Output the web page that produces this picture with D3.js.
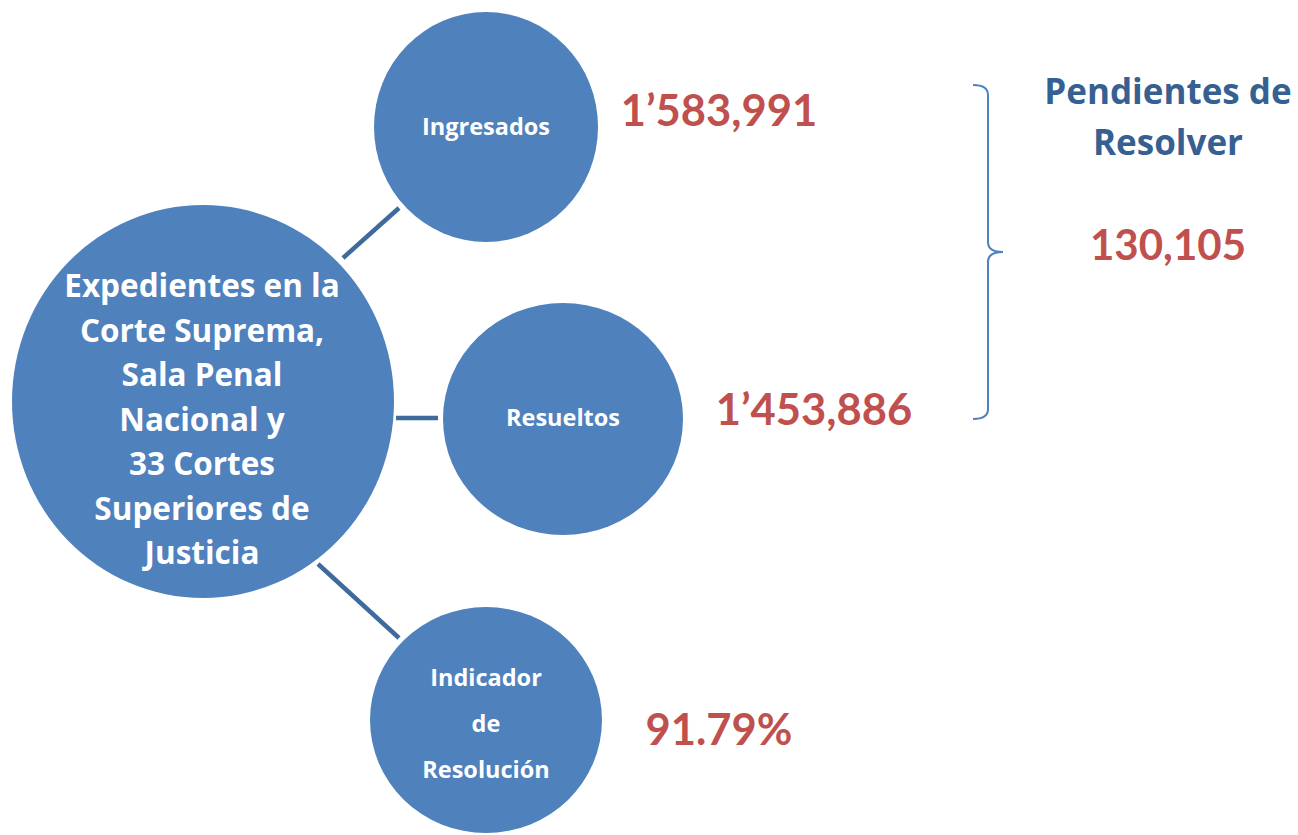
<!DOCTYPE html>
<html>
<head>
<meta charset="utf-8">
<script src="https://cdn.jsdelivr.net/npm/d3@7"></script>
<style>
html,body{margin:0;padding:0;background:#fff;}
svg{display:block;font-family:Lato,"Open Sans",sans-serif;font-weight:bold;}
.os{font-family:"Open Sans",Lato,sans-serif;}
</style>
</head>
<body>
<svg id="chart" width="1298" height="835"></svg>
<script>
// ---- data ----
const mainLabel = ["Expedientes en la", "Corte Suprema,", "Sala Penal", "Nacional y", "33 Cortes", "Superiores de", "Justicia"];
const nodeNames = ["Ingresados", "Resueltos", "Indicador de Resolución"];
const nodeLines = [["Ingresados"], ["Resueltos"], ["Indicador", "de", "Resolución"]];
const nodeValues = ["1’583,991", "1’453,886", "91.79%"];
const pendingTitle = ["Pendientes de", "Resolver"];
const pendingValue = "130,105";

// ---- layout ----
const svg = d3.select("#chart");
const blue = "#4f81bd", lineBlue = "#3e6a9c", red = "#c0504d", darkBlue = "#366092";

const main = {cx: 203, cy: 401.5, rx: 191, ry: 196.5, tx: 202, ty0: 297, dy: 44.5};
const nodes = nodeNames.map((n, i) => ({
  name: n,
  lines: nodeLines[i],
  value: nodeValues[i],
  geo: [
    {cx: 486, cy: 127, rx: 112, ry: 115, ty: 135, ldy: 0, vx: 719, vy: 126, link: [343, 258, 399, 208]},
    {cx: 563, cy: 419, rx: 120, ry: 116, ty: 426, ldy: 0, vx: 814, vy: 425, link: [396, 418, 438, 418]},
    {cx: 486, cy: 720, rx: 116, ry: 113, ty: 686, ldy: 46, vx: 719, vy: 745, link: [318, 564, 399, 638]}
  ][i]
}));

// connectors
svg.selectAll("line.link").data(nodes).join("line")
  .attr("class", "link")
  .attr("x1", d => d.geo.link[0]).attr("y1", d => d.geo.link[1])
  .attr("x2", d => d.geo.link[2]).attr("y2", d => d.geo.link[3])
  .attr("stroke", lineBlue).attr("stroke-width", 4.5);

// main ellipse
svg.append("ellipse")
  .attr("cx", main.cx).attr("cy", main.cy).attr("rx", main.rx).attr("ry", main.ry)
  .attr("fill", blue);
svg.append("g").selectAll("text").data(mainLabel).join("text")
  .attr("class", "os")
  .attr("x", main.tx).attr("y", (d, i) => main.ty0 + i * main.dy)
  .attr("text-anchor", "middle").attr("fill", "#fff")
  .attr("font-size", 31.5).text(d => d);

// node ellipses
const g = svg.selectAll("g.node").data(nodes).join("g").attr("class", "node");
g.append("ellipse")
  .attr("cx", d => d.geo.cx).attr("cy", d => d.geo.cy)
  .attr("rx", d => d.geo.rx).attr("ry", d => d.geo.ry)
  .attr("fill", blue);
g.each(function(d) {
  d3.select(this).selectAll("text.lbl").data(d.lines).join("text")
    .attr("class", "lbl os")
    .attr("x", d.geo.cx).attr("y", (t, i) => d.geo.ty + i * d.geo.ldy)
    .attr("text-anchor", "middle").attr("fill", "#fff")
    .attr("font-size", 23.5).text(t => t);
});
g.append("text")
  .attr("x", d => d.geo.vx).attr("y", d => d.geo.vy)
  .attr("text-anchor", "middle").attr("fill", red)
  .attr("font-size", 43.5).text(d => d.value);

// brace
const b = {x: 973, xm: 988, xt: 1003, y0: 85, ym: 252, y1: 419, r: 10};
const path = d3.path();
path.moveTo(b.x, b.y0);
path.quadraticCurveTo(b.xm, b.y0, b.xm, b.y0 + b.r);
path.lineTo(b.xm, b.ym - b.r);
path.quadraticCurveTo(b.xm, b.ym, b.xt, b.ym);
path.quadraticCurveTo(b.xm, b.ym, b.xm, b.ym + b.r);
path.lineTo(b.xm, b.y1 - b.r);
path.quadraticCurveTo(b.xm, b.y1, b.x, b.y1);
svg.append("path").attr("d", path.toString())
  .attr("fill", "none").attr("stroke", blue).attr("stroke-width", 2);

svg.selectAll("text.ptitle").data(pendingTitle).join("text")
  .attr("class", "ptitle os")
  .attr("x", 1168).attr("y", (d, i) => 104 + i * 51)
  .attr("text-anchor", "middle").attr("fill", darkBlue)
  .attr("font-size", 35).text(d => d);
svg.append("text")
  .attr("x", 1168).attr("y", 260)
  .attr("text-anchor", "middle").attr("fill", red)
  .attr("font-size", 42).text(pendingValue);
</script>
</body>
</html>
